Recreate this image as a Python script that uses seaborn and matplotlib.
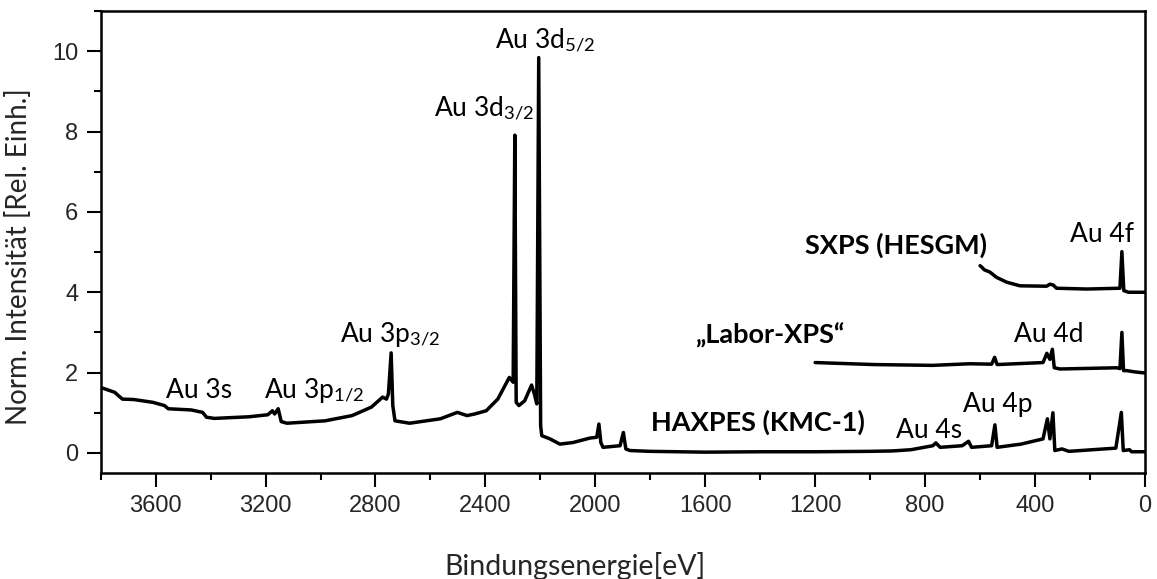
import matplotlib
matplotlib.use("Agg")
import matplotlib.pyplot as plt
from matplotlib.ticker import MultipleLocator
import numpy as np
import pandas as pd
import seaborn as sns

# Survey spectra of gold (binding energy in eV, normalized intensity)
haxpes_energy = [3800, 3749, 3721, 3680, 3610, 3568, 3554, 3470, 3429, 3415, 3387, 3261,
                 3192, 3175, 3167, 3154, 3143, 3122, 2983, 2885, 2815, 2774, 2760, 2753,
                 2743, 2737, 2729, 2676, 2564, 2502, 2467, 2439, 2397, 2355, 2313, 2299,
                 2293, 2288, 2278, 2257, 2232, 2222, 2213, 2206, 2199, 2195, 2165, 2129,
                 2081, 2020, 1995, 1987, 1980, 1972, 1910, 1898, 1889, 1874, 1800, 1600,
                 1400, 1200, 1000, 919, 852, 772, 761, 745, 665, 642, 631, 558, 546, 538,
                 451, 371, 355, 346, 335, 328, 302, 277, 106, 86, 79, 56, 49, 0]
haxpes_int = [1.63, 1.51, 1.34, 1.33, 1.26, 1.18, 1.10, 1.07, 1.01, 0.89, 0.86, 0.90,
              0.95, 1.05, 0.97, 1.10, 0.78, 0.74, 0.80, 0.93, 1.14, 1.39, 1.34, 1.47,
              2.49, 1.18, 0.80, 0.74, 0.85, 1.01, 0.93, 0.97, 1.05, 1.34, 1.88, 1.76,
              7.91, 1.26, 1.18, 1.30, 1.69, 1.47, 1.22, 9.84, 0.68, 0.43, 0.35, 0.22,
              0.26, 0.37, 0.39, 0.72, 0.26, 0.14, 0.18, 0.51, 0.10, 0.06, 0.04, 0.02,
              0.03, 0.03, 0.04, 0.05, 0.08, 0.18, 0.25, 0.14, 0.18, 0.29, 0.14, 0.18,
              0.70, 0.14, 0.22, 0.35, 0.85, 0.35, 1.00, 0.06, 0.10, 0.04, 0.12, 1.01,
              0.06, 0.08, 0.03, 0.03]

labor_energy = [1200, 986, 772, 638, 558, 547, 538, 371, 357, 346, 337, 330, 309, 103,
                91, 84, 78, 67, 40, 0]
labor_int = [2.25, 2.20, 2.18, 2.22, 2.21, 2.38, 2.20, 2.25, 2.48, 2.33, 2.58, 2.12,
             2.09, 2.12, 2.10, 3.00, 2.05, 2.05, 2.02, 1.99]

sxps_energy = [600, 593, 585, 564, 540, 503, 455, 358, 346, 334, 322, 212, 91, 84, 77,
               60, 0]
sxps_int = [4.66, 4.62, 4.56, 4.50, 4.37, 4.25, 4.16, 4.15, 4.20, 4.18, 4.10, 4.08,
            4.10, 5.01, 4.04, 4.00, 4.00]

# Peak labels: (text, energy, intensity)
peak_labels = [
    ("Au 3d$_{5/2}$", 2183, 10.10),
    ("Au 3d$_{3/2}$", 2405, 8.39),
    ("Au 3p$_{3/2}$", 2747, 2.76),
    ("Au 3s", 3443, 1.37),
    ("Au 3p$_{1/2}$", 3024, 1.37),
    ("Au 4f", 156, 5.25),
    ("Au 4d", 349, 2.76),
    ("Au 4p", 534, 1.02),
    ("Au 4s", 786, 0.37),
]
# Spectrum names: (text, energy, intensity)
spectrum_labels = [
    ("SXPS (HESGM)", 905, 4.95),
    ("\u201eLabor-XPS\u201c", 1365, 2.71),
    ("HAXPES (KMC-1)", 1409, 0.55),
]

x_ticks = [3600, 3200, 2800, 2400, 2000, 1600, 1200, 800, 400, 0]
y_ticks = [0, 2, 4, 6, 8, 10]

sns.set_theme(style="ticks")
plt.rcParams["font.family"] = ["Liberation Sans", "DejaVu Sans"]
plt.rcParams["mathtext.fontset"] = "custom"
plt.rcParams["mathtext.rm"] = "Lato"
plt.rcParams["mathtext.it"] = "Lato:italic"

fig = plt.figure(figsize=(11.57, 5.79), dpi=100)
ax = fig.add_axes([0.087, 0.183, 0.9026, 0.798])

spectra = [(haxpes_energy, haxpes_int), (labor_energy, labor_int), (sxps_energy, sxps_int)]
for e, i in spectra:
    df = pd.DataFrame({"energy": e, "intensity": i})
    sns.lineplot(data=df, x="energy", y="intensity", ax=ax, color="black",
                 linewidth=2.5, sort=False, estimator=None)

ax.set_xlim(3800, 0)
ax.set_ylim(-0.5, 11)
ax.set_xticks(x_ticks)
ax.set_yticks(y_ticks)
ax.xaxis.set_minor_locator(MultipleLocator(200))
ax.yaxis.set_minor_locator(MultipleLocator(1))

for s in ax.spines.values():
    s.set_linewidth(1.8)
    s.set_color("black")

ax.tick_params(axis="both", which="major", length=10, width=1.5, labelsize=17,
               direction="out", pad=6, color="black")
ax.tick_params(axis="both", which="minor", length=5, width=1.5, direction="out",
               color="black")
ax.tick_params(axis="x", which="both", top=True)
for t in ax.xaxis.get_ticklines(minor=False)[1::2] + ax.xaxis.get_ticklines(minor=True)[1::2]:
    t.set_markersize(0)

ax.set_xlabel("Bindungsenergie[eV]", family="Lato", fontsize=20.5)
ax.set_ylabel("Norm. Intensit\u00e4t [Rel. Einh.]", family="Lato", fontsize=20)
ax.xaxis.set_label_coords(0.454, -0.170)
ax.yaxis.set_label_coords(-0.066, 0.468)

for txt, e, v in peak_labels:
    ax.text(e, v, txt, ha="center", va="baseline", fontsize=19, family="Lato",
            color="black")
for txt, e, v in spectrum_labels:
    ax.text(e, v, txt, ha="center", va="baseline", fontsize=19.5, family="Lato",
            fontweight="bold", color="black")

fig.savefig("out.png", dpi=100)
